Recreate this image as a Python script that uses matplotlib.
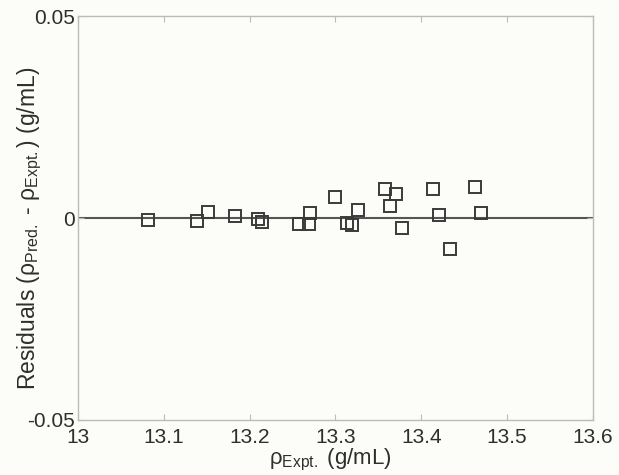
import matplotlib
matplotlib.use('Agg')
import matplotlib.pyplot as plt

rho_expt = [13.082, 13.139, 13.152, 13.183, 13.210, 13.214, 13.257, 13.269,
            13.270, 13.299, 13.313, 13.319, 13.326, 13.358, 13.364, 13.371,
            13.377, 13.414, 13.421, 13.433, 13.463, 13.470]
residuals = [-0.0004, -0.0007, 0.0015, 0.0006, -0.0002, -0.0011, -0.0015, -0.0015,
             0.0012, 0.0052, -0.0012, -0.0018, 0.0021, 0.0072, 0.0031, 0.0060,
             -0.0025, 0.0071, 0.0008, -0.0077, 0.0077, 0.0012]

x_ticks = [13, 13.1, 13.2, 13.3, 13.4, 13.5, 13.6]
x_ticklabels = ['13', '13.1', '13.2', '13.3', '13.4', '13.5', '13.6']
y_ticks = [-0.05, 0, 0.05]
y_ticklabels = ['-0.05', '0', '0.05']

plt.rcParams['font.family'] = ['Liberation Sans', 'DejaVu Sans']
plt.rcParams['mathtext.fontset'] = 'custom'
plt.rcParams['mathtext.rm'] = 'Liberation Sans'
plt.rcParams['mathtext.it'] = 'Liberation Sans:italic'

bg = '#fcfcf8'
txt = '#2e2e2e'
fig = plt.figure(figsize=(6.19, 4.75), dpi=100, facecolor=bg)
ax = fig.add_axes([0.126, 0.116, 0.832, 0.850], facecolor=bg)

# zero reference line
ax.axhline(0, color='#555555', lw=1.5, zorder=1)

ax.plot(rho_expt, residuals, ls='none', marker='s', ms=8.5,
        mfc='none', mec='#3a3a3a', mew=1.4, zorder=2)

ax.set_xlim(13, 13.6)
ax.set_ylim(-0.05, 0.05)
ax.set_xticks(x_ticks)
ax.set_xticklabels(x_ticklabels)
ax.set_yticks(y_ticks)
ax.set_yticklabels(y_ticklabels)

for s in ax.spines.values():
    s.set_color('#bbbbbb')
    s.set_linewidth(1.0)
ax.tick_params(direction='in', length=4, color='#bbbbbb', labelsize=15,
               labelcolor=txt, top=True, right=True)
ax.tick_params(axis='x', pad=6)
ax.tick_params(axis='y', pad=2)

ax.set_xlabel(r'ρ$_{\mathrm{Expt.}}$ (g/mL)', fontsize=16, color=txt)
ax.set_ylabel(r'Residuals (ρ$_{\mathrm{Pred.}}$ - ρ$_{\mathrm{Expt.}}$) (g/mL)',
              fontsize=16.5, color=txt)
ax.xaxis.set_label_coords(0.489, -0.066)
ax.yaxis.set_label_coords(-0.066, 0.475)

fig.savefig('out.png', dpi=100, facecolor=bg)
